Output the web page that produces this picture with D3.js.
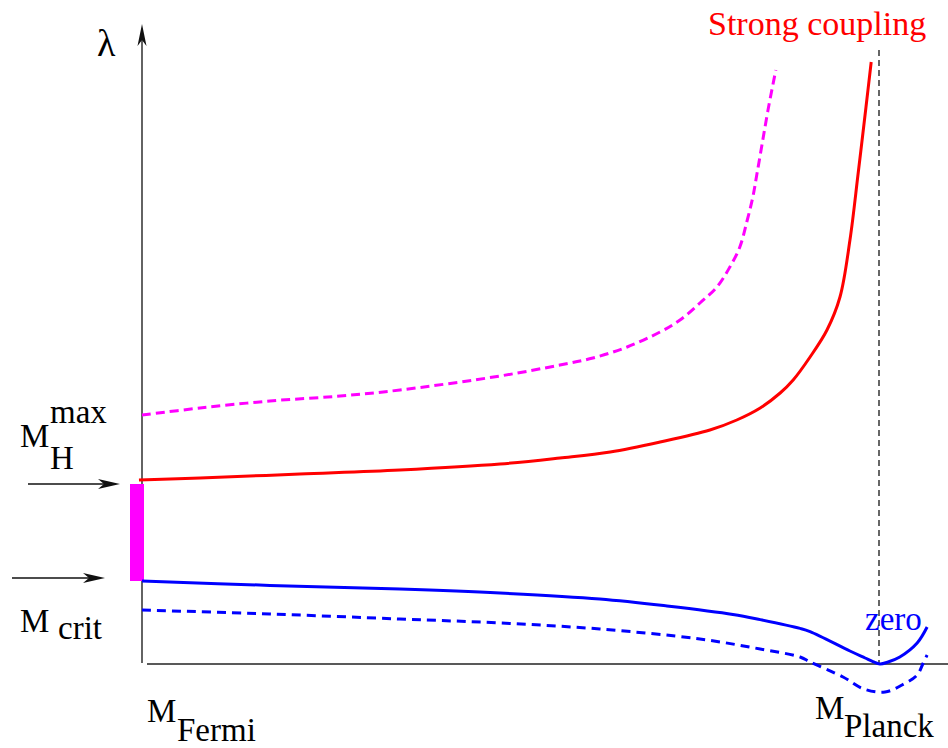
<!DOCTYPE html>
<html>
<head>
<meta charset="utf-8">
<script src="https://cdn.jsdelivr.net/npm/d3@7"></script>
</head>
<body>
<div id="chart"></div>
<script>
// running of the Higgs self coupling lambda with scale (log10 mu / GeV)
const WIDTH = 948;
const HEIGHT = 748;

const LOG_FERMI = 2;
const LOG_PLANCK = 19;

// upper bound curve (red, hits strong coupling just below Planck)
const redX = [1.93, 3.34, 5.64, 7.95, 10.26, 11.64, 12.80, 13.95, 15.10, 15.72, 16.26, 16.72, 17.02, 17.41, 17.80, 18.10, 18.33, 18.52, 18.70, 18.82];
const redY = [0.92, 0.93, 0.95, 0.97, 1.0, 1.03, 1.06, 1.11, 1.17, 1.22, 1.28, 1.355, 1.42, 1.535, 1.67, 1.835, 2.12, 2.455, 2.785, 3.01];

// heavier Higgs (magenta dashed, blows up earlier)
const magX = [2.0, 3.34, 4.95, 6.57, 7.95, 10.26, 11.64, 12.40, 13.19, 13.95, 14.41, 14.87, 15.26, 15.56, 15.79, 15.95, 16.09, 16.18, 16.30, 16.44, 16.62];
const magY = [1.245, 1.28, 1.315, 1.34, 1.37, 1.44, 1.495, 1.53, 1.585, 1.66, 1.72, 1.805, 1.885, 1.985, 2.085, 2.21, 2.335, 2.445, 2.595, 2.77, 2.97];

// lower bound curve (blue, touches zero at Planck)
const blueX = [2.0, 4.95, 7.95, 10.26, 12.56, 14.11, 15.63, 16.26, 17.18, 17.41, 18.33, 18.68, 18.86, 19.02, 19.21, 19.48, 19.88, 20.11];
const blueY = [0.415, 0.393, 0.375, 0.355, 0.325, 0.29, 0.248, 0.222, 0.178, 0.162, 0.065, 0.03, 0.012, 0.0, 0.01, 0.035, 0.105, 0.185];

// lighter Higgs (blue dashed, goes negative)
const blueDashX = [2.0, 4.95, 7.95, 10.26, 12.56, 14.87, 16.26, 17.18, 17.41, 18.17, 18.65, 19.14, 19.53, 19.88, 20.02, 20.11];
const blueDashY = [0.27, 0.25, 0.225, 0.205, 0.175, 0.125, 0.075, 0.035, 0.01, -0.065, -0.125, -0.14, -0.105, -0.055, 0.005, 0.045];

// allowed Higgs mass window on the lambda axis
const windowLow = 0.415;
const windowHigh = 0.90;

const lambdaTop = 3.2;

// text labels: [x, y, size, colour, text]
const labels = [
    [97, 56, 38, '#000000', 'λ'],
    [708, 35, 34, '#ff0000', 'Strong coupling'],
    [865, 630, 33, '#0000ff', 'zero'],
    [20, 447, 33, '#000000', 'M'],
    [50, 423, 33, '#000000', 'max'],
    [50, 469, 33, '#000000', 'H'],
    [20, 632, 33, '#000000', 'M'],
    [58, 639, 33, '#000000', 'crit'],
    [147, 722, 33, '#000000', 'M'],
    [177, 741, 33, '#000000', 'Fermi'],
    [815, 719, 33, '#000000', 'M'],
    [844, 737, 33, '#000000', 'Planck'],
];

d3.select('body').style('margin', '0px');

const svg = d3.select('#chart')
    .append('svg')
        .attr('width', WIDTH)
        .attr('height', HEIGHT)
        .style('display', 'block');

const x = d3.scaleLinear()
    .domain([LOG_FERMI, LOG_PLANCK])
    .range([142, 879]);

const y = d3.scaleLinear()
    .domain([0, lambdaTop])
    .range([664, 24]);

const line = d3.line()
    .x(d => x(d[0]))
    .y(d => y(d[1]))
    .curve(d3.curveCatmullRom.alpha(0.5));

const zip = (xs, ys) => xs.map((v, i) => [v, ys[i]]);

// axes
svg.append('line')
    .attr('x1', x(LOG_FERMI)).attr('x2', x(LOG_FERMI))
    .attr('y1', y(0) - 1).attr('y2', y(lambdaTop) + 14)
    .attr('stroke', '#222').attr('stroke-width', 1.4);

svg.append('path')
    .attr('d', 'M' + x(LOG_FERMI) + ',' + y(lambdaTop) +
        ' l-4.5,22 l4.5,-6 l4.5,6 Z')
    .attr('fill', '#111');

svg.append('line')
    .attr('x1', x(LOG_FERMI) + 5).attr('x2', WIDTH)
    .attr('y1', y(0)).attr('y2', y(0))
    .attr('stroke', '#222').attr('stroke-width', 1.4);

// Planck scale marker
svg.append('line')
    .attr('x1', x(LOG_PLANCK)).attr('x2', x(LOG_PLANCK))
    .attr('y1', 50).attr('y2', y(0))
    .attr('stroke', '#000').attr('stroke-width', 1.2)
    .attr('stroke-dasharray', '6,4');

// mass window bar
svg.append('rect')
    .attr('x', x(LOG_FERMI) - 12)
    .attr('y', y(windowHigh))
    .attr('width', 14)
    .attr('height', y(windowLow) - y(windowHigh))
    .attr('fill', '#ff00ff');

// curves
svg.append('path')
    .datum(zip(magX, magY))
    .attr('fill', 'none')
    .attr('stroke', '#ff00ff')
    .attr('stroke-width', 3)
    .attr('stroke-dasharray', '9,5')
    .attr('d', line);

svg.append('path')
    .datum(zip(redX, redY))
    .attr('fill', 'none')
    .attr('stroke', '#ff0000')
    .attr('stroke-width', 3)
    .attr('d', line);

svg.append('path')
    .datum(zip(blueDashX, blueDashY))
    .attr('fill', 'none')
    .attr('stroke', '#0000ff')
    .attr('stroke-width', 3)
    .attr('stroke-dasharray', '9,6')
    .attr('d', line);

svg.append('path')
    .datum(zip(blueX, blueY))
    .attr('fill', 'none')
    .attr('stroke', '#0000ff')
    .attr('stroke-width', 3)
    .attr('d', line);

// arrows pointing at the window edges
function arrow(x1, x2, yy) {
    svg.append('line')
        .attr('x1', x1).attr('x2', x2 - 12)
        .attr('y1', yy).attr('y2', yy)
        .attr('stroke', '#111').attr('stroke-width', 1.3);
    svg.append('path')
        .attr('d', 'M' + x2 + ',' + yy + ' l-22,-5 l6,5 l-6,5 Z')
        .attr('fill', '#111');
}
arrow(28, 120, y(windowHigh));
arrow(12, 105, y(windowLow) - 3);

// labels
svg.append('g')
    .selectAll('text')
    .data(labels)
    .join('text')
        .attr('x', d => d[0])
        .attr('y', d => d[1])
        .attr('font-size', d => d[2])
        .style('fill', d => d[3])
        .style('font-family', '"Liberation Serif"')
        .text(d => d[4]);
</script>
</body>
</html>
